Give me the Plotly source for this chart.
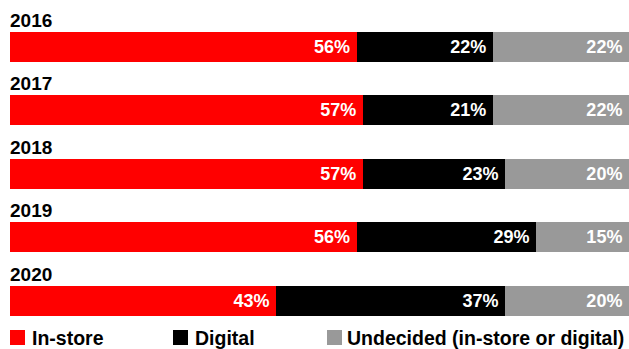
import plotly.graph_objects as go

years = ["2016", "2017", "2018", "2019", "2020"]
in_store = [56, 57, 57, 56, 43]
digital = [22, 21, 23, 29, 37]
undecided = [22, 22, 20, 15, 20]

series = [
    ("In-store", in_store, "#ff0000"),
    ("Digital", digital, "#000000"),
    ("Undecided (in-store or digital)", undecided, "#999999"),
]

FONT = "Liberation Sans, Arial, sans-serif"
W, H, ML = 629, 349, 10
ypos = list(range(len(years)))


def px_x(px):
    return (px - ML) / (W - ML)


def px_y(py):
    return (H - py) / H


fig = go.Figure()
for name, vals, color in series:
    fig.add_trace(go.Bar(
        name=name,
        y=ypos,
        x=vals,
        orientation="h",
        width=0.47,
        marker=dict(color=color, line=dict(width=0)),
        text=[f"{v}%\u2009" for v in vals],
        textposition="inside",
        insidetextanchor="end",
        textfont=dict(family=FONT, size=18, color="white", weight="bold"),
        hoverinfo="skip",
        showlegend=False,
    ))

for i, yr in enumerate(years):
    fig.add_annotation(
        x=0, y=i - 0.418, xref="x", yref="y",
        text=f"<b>{yr}</b>", showarrow=False,
        xanchor="left", yanchor="middle", xshift=-2,
        font=dict(family=FONT, size=19, color="black"),
    )

# legend keys (drawn manually to match the reference layout)
legend_sq_px = [10, 173, 327]
legend_txt_px = [32, 195, 347]
for (name, _, color), sx, tx in zip(series, legend_sq_px, legend_txt_px):
    fig.add_shape(
        type="rect", xref="paper", yref="paper",
        x0=px_x(sx), x1=px_x(sx + 15), y0=px_y(345), y1=px_y(330),
        fillcolor=color, line=dict(width=0),
    )
    fig.add_annotation(
        x=px_x(tx), y=px_y(337.5), xref="paper", yref="paper",
        text=f"<b>{name}</b>", showarrow=False,
        xanchor="left", yanchor="middle", xshift=-2,
        font=dict(family=FONT, size=19.5, color="black"),
    )

fig.update_layout(
    barmode="stack",
    width=W, height=H,
    margin=dict(l=ML, r=0, t=0, b=0),
    paper_bgcolor="white", plot_bgcolor="white",
    xaxis=dict(range=[0, 100], visible=False, fixedrange=True),
    yaxis=dict(range=[4.763, -0.741], visible=False, fixedrange=True),
    showlegend=False,
)

fig.write_html("out.html")
